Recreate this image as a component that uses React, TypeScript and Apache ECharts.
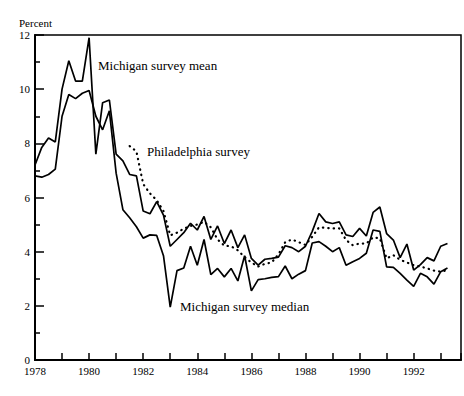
import React, { useEffect, useRef } from "react";
import * as echarts from "echarts";

// Quarterly data, starting 1978Q1 (Michigan) and 1981Q3 (Philadelphia)
const michiganStart = 1978;
const phillyStart = 1981.5;

const michiganMean = [
  7.2, 7.85, 8.2, 8.05,
  10.0, 11.05, 10.3, 10.3,
  11.9, 7.6, 9.5, 9.6,
  7.6, 7.35, 6.85, 6.8,
  5.5, 5.4, 5.85, 5.35,
  4.2, 4.45, 4.7, 5.05,
  4.8, 5.3, 4.45, 4.95,
  4.3, 4.8, 4.15, 4.62,
  3.75, 3.5, 3.72, 3.75,
  3.8, 4.22, 4.15, 4.0,
  4.2, 4.75, 5.41, 5.1,
  5.04, 5.1, 4.62, 4.56,
  4.86, 4.58, 5.45, 5.65,
  4.67, 4.43, 3.78, 4.28,
  3.32, 3.52, 3.78, 3.66,
  4.2, 4.3,
];

const michiganMedian = [
  6.8, 6.75, 6.85, 7.05,
  9.0, 9.8, 9.65, 9.85,
  9.95, 9.0, 8.5, 9.2,
  6.9, 5.55, 5.25, 4.92,
  4.5, 4.62, 4.6, 3.85,
  1.95, 3.3, 3.4, 4.2,
  3.5, 4.45, 3.15, 3.38,
  3.07, 3.38, 2.92, 3.85,
  2.55, 2.97, 3.0, 3.05,
  3.08, 3.47, 3.0, 3.17,
  3.3, 4.32, 4.37, 4.2,
  4.0, 4.15, 3.5, 3.63,
  3.75, 3.94, 4.8, 4.75,
  3.44, 3.42, 3.2, 2.95,
  2.72, 3.2, 3.07, 2.8,
  3.26, 3.4,
];

const phillySurvey = [
  7.9, 7.7,
  6.5, 6.15, 5.9, 5.5,
  4.6, 4.7, 4.85, 4.95,
  5.0, 5.1, 4.9, 4.45,
  4.22, 4.2, 4.05, 3.8,
  3.6, 3.45, 3.55, 3.6,
  3.9, 4.35, 4.45, 4.35,
  4.25, 4.55, 4.9, 4.88,
  4.86, 4.86, 4.43, 4.24,
  4.3, 4.3, 4.53, 4.49,
  3.75, 3.87, 3.7, 3.6,
  3.5, 3.45, 3.38, 3.3,
  3.26, 3.32,
];

const yTicks = [0, 2, 4, 6, 8, 10, 12];
const xLabelYears = [1978, 1980, 1982, 1984, 1986, 1988, 1990, 1992];

const toPairs = (start: number, vals: number[]) =>
  vals.map((v, i) => [start + i * 0.25, v]);

const FONT = "'Liberation Serif', 'Times New Roman', serif";

export default function App() {
  const ref = useRef<HTMLDivElement>(null);
  useEffect(() => {
    if (!ref.current) return;
    const chart = echarts.init(ref.current, null, { renderer: "svg" });
    const axisLine = { show: true, lineStyle: { color: "#000", width: 2 } };
    chart.setOption({
      animation: false,
      backgroundColor: "#fff",
      grid: {
        left: 35,
        top: 35,
        width: 427.5,
        height: 325,
        show: true,
        borderColor: "#000",
        borderWidth: 1.5,
        backgroundColor: "transparent",
      },
      xAxis: {
        type: "value",
        min: 1978,
        max: 1993.75,
        interval: 1,
        axisLine,
        splitLine: { show: false },
        axisTick: { show: true, inside: true, length: 7, lineStyle: { color: "#000", width: 1.5 } },
        axisLabel: {
          color: "#000",
          fontFamily: FONT,
          fontSize: 11,
          lineHeight: 11,
          margin: 5,
          formatter: (v: number) => (xLabelYears.includes(v) ? String(v) : ""),
        },
      },
      yAxis: {
        type: "value",
        min: yTicks[0],
        max: yTicks[yTicks.length - 1],
        interval: 2,
        axisLine,
        splitLine: { show: false },
        axisTick: { show: true, inside: true, length: 9, lineStyle: { color: "#000", width: 1.5 } },
        minorTick: { show: true, splitNumber: 2, length: 5, lineStyle: { color: "#000", width: 1.5 } },
        minorSplitLine: { show: false },
        axisLabel: {
          color: "#000",
          fontFamily: FONT,
          fontSize: 11,
          lineHeight: 11,
          margin: 5,
          padding: [0, 0, 5, 0],
        },
      },
      series: [
        {
          name: "Michigan survey mean",
          type: "line",
          data: toPairs(michiganStart, michiganMean),
          symbol: "none",
          lineStyle: { color: "#000", width: 1.7 },
          z: 3,
        },
        {
          name: "Michigan survey median",
          type: "line",
          data: toPairs(michiganStart, michiganMedian),
          symbol: "none",
          lineStyle: { color: "#000", width: 1.7 },
          z: 3,
        },
        {
          name: "Philadelphia survey",
          type: "line",
          data: toPairs(phillyStart, phillySurvey),
          symbol: "none",
          lineStyle: { color: "#000", width: 2.2, type: [0.4, 5], cap: "round" },
          z: 2,
        },
      ],
      graphic: [
        {
          type: "text",
          left: 19,
          top: 17,
          style: { text: "Percent", font: `11px ${FONT}`, fill: "#000" },
        },
        {
          type: "text",
          left: 98,
          top: 59,
          style: { text: "Michigan survey mean", font: `13px ${FONT}`, fill: "#000" },
        },
        {
          type: "text",
          left: 147,
          top: 145,
          style: { text: "Philadelphia survey", font: `13px ${FONT}`, fill: "#000" },
        },
        {
          type: "text",
          left: 180,
          top: 300,
          style: { text: "Michigan survey median", font: `13px ${FONT}`, fill: "#000" },
        },
      ],
    });
    return () => chart.dispose();
  }, []);
  return (
    <div
      ref={ref}
      style={{ position: "absolute", left: 0, top: 0, width: 464, height: 396, background: "#fff" }}
    />
  );
}
